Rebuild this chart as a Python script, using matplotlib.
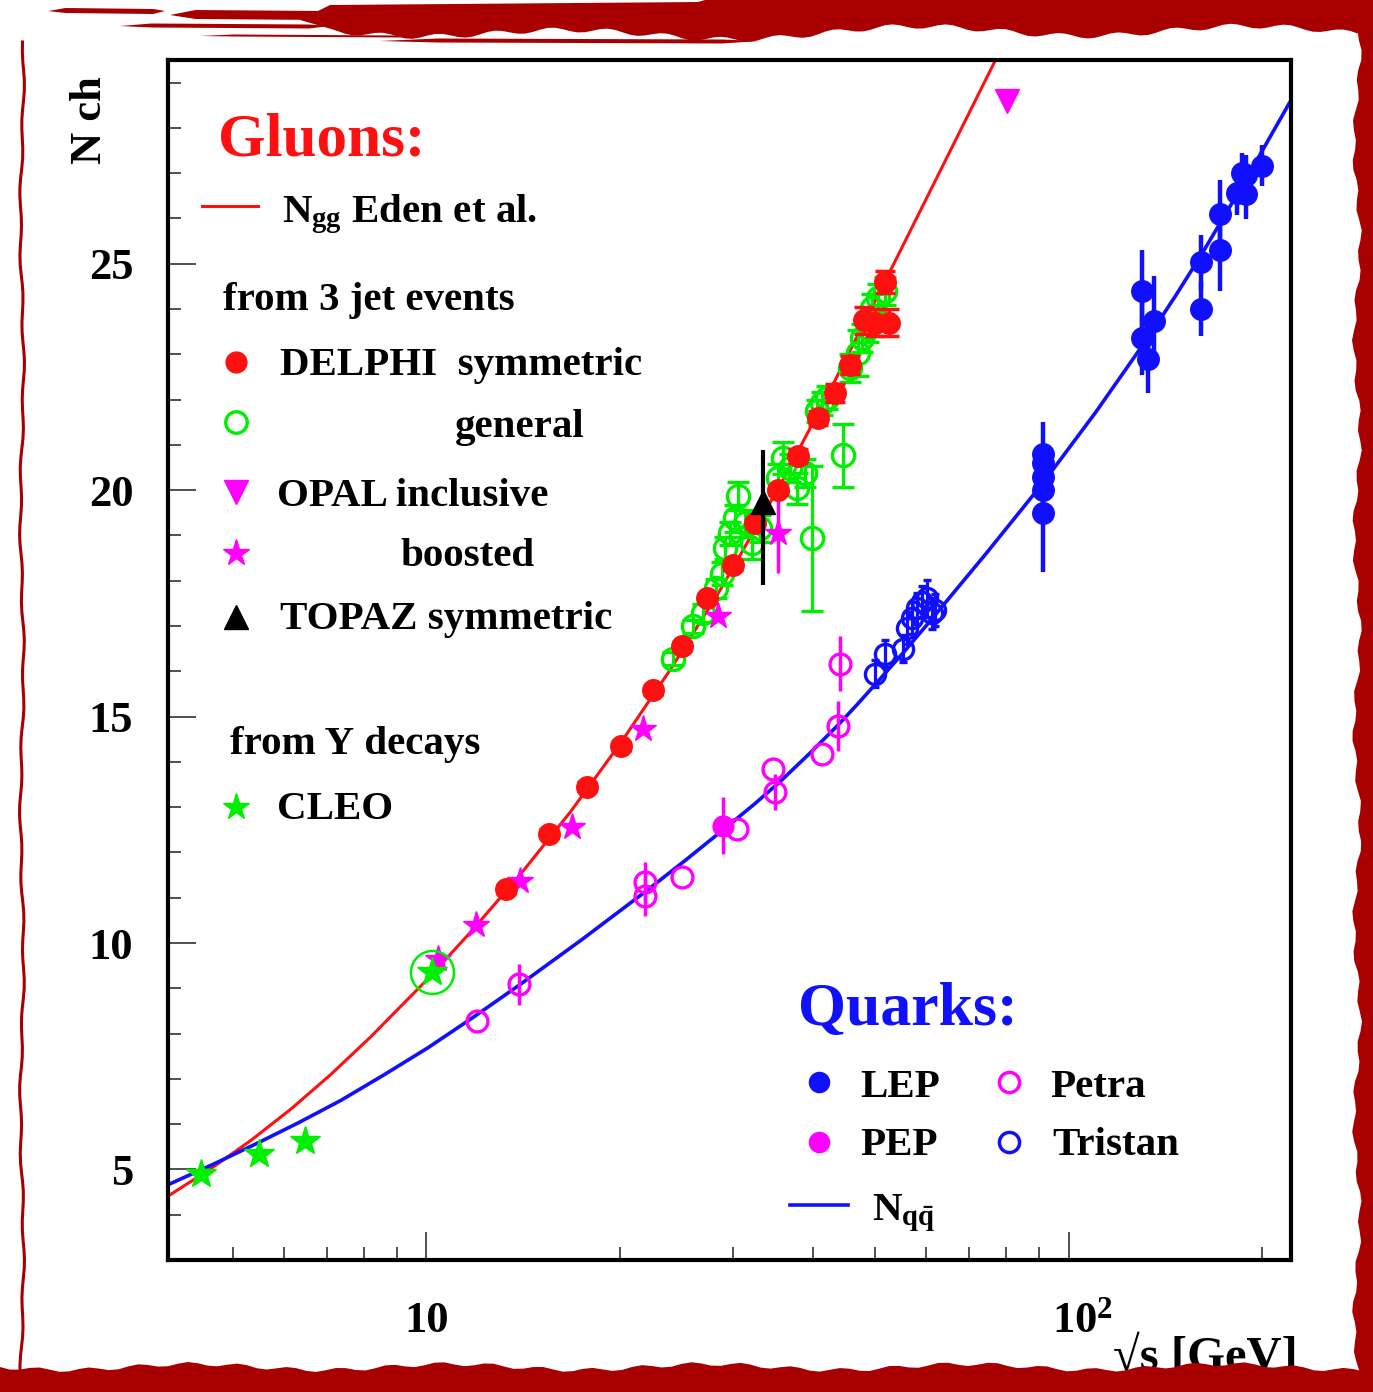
import numpy as np
import matplotlib
matplotlib.use('Agg')
import matplotlib.pyplot as plt
from matplotlib.lines import Line2D
from matplotlib.patches import Polygon
from matplotlib.ticker import FixedLocator, FixedFormatter, NullFormatter
import matplotlib.transforms as mtransforms

plt.rcParams['font.family'] = ['Liberation Serif', 'DejaVu Serif']
plt.rcParams['font.weight'] = 'bold'
plt.rcParams['mathtext.fontset'] = 'custom'
plt.rcParams['mathtext.rm'] = 'Liberation Serif:bold'
plt.rcParams['mathtext.it'] = 'Liberation Serif:bold'
plt.rcParams['mathtext.bf'] = 'Liberation Serif:bold'

# ---------------- data ----------------
# theory curves
ngg_x = [4.00, 4.61, 5.33, 6.15, 7.09, 8.18, 10.04, 11.70, 14.00, 16.75, 20.03, 23.96,
         28.66, 35.52, 42.50, 51.74, 63.01, 77.27]
ngg_y = [4.45, 5.01, 5.64, 6.33, 7.09, 7.92, 9.20, 10.23, 11.51, 12.89, 14.40, 16.03,
         17.79, 20.10, 22.20, 24.60, 27.03, 29.55]

nqq_x = [4.00, 4.65, 5.42, 6.30, 7.35, 8.57, 10.04, 11.83, 13.95, 17.48, 21.91, 25.38,
         29.39, 32.37, 35.52, 39.41, 43.73, 46.81, 49.92, 55.20, 60.78, 74.29, 91.12,
         110.2, 133.7, 146.7, 161.0, 188.5, 220.7]
nqq_y = [4.69, 5.11, 5.56, 6.02, 6.52, 7.08, 7.68, 8.36, 9.07, 10.08, 11.13, 11.84,
         12.57, 13.06, 13.56, 14.17, 14.81, 15.26, 15.70, 16.40, 17.10, 18.59, 20.15,
         21.72, 23.42, 24.29, 25.20, 26.84, 28.55]

# DELPHI symmetric (red filled)
delphi_sym_x = [13.3, 15.5, 17.8, 20.1, 22.5, 25.0, 27.4, 30.0, 32.5, 35.3, 37.9, 40.7,
                43.3, 45.7, 48.0, 50.0, 52.5, 51.7]
delphi_sym_y = [11.19, 12.41, 13.45, 14.34, 15.58, 16.55, 17.61, 18.34, 19.27, 20.00, 20.75,
                21.59, 22.15, 22.77, 23.75, 23.70, 23.70, 24.60]
delphi_sym_e = [0.1, 0.1, 0.1, 0.1, 0.1, 0.1, 0.1, 0.1, 0.1, 0.1, 0.15, 0.15,
                0.2, 0.2, 0.3, 0.3, 0.3, 0.25]

# DELPHI general (green open)
delphi_gen_x = [24.2, 26.0, 27.0, 28.2, 28.9, 29.2, 29.7, 30.2, 30.6, 31.3, 32.1, 33.1,
                35.3, 35.9, 36.8, 37.8, 38.9, 39.9, 40.6, 41.3, 42.0, 44.5, 45.7, 47.0,
                47.7, 48.7, 49.4, 50.5, 51.7]
delphi_gen_y = [16.28, 16.99, 17.28, 17.83, 18.16, 18.72, 19.05, 19.38, 19.87, 19.27, 18.83, 19.16,
                20.27, 20.71, 20.49, 20.04, 20.38, 18.94, 21.75, 21.92, 22.04, 20.77, 22.70, 23.03,
                23.36, 23.58, 24.03, 24.25, 24.40]
delphi_gen_e = [0.15, 0.15, 0.2, 0.2, 0.25, 0.25, 0.25, 0.3, 0.3, 0.3, 0.35, 0.3,
                0.3, 0.35, 0.3, 0.35, 0.3, 1.6, 0.25, 0.25, 0.25, 0.7, 0.3, 0.5,
                0.3, 0.3, 0.3, 0.3, 0.3]

# OPAL
opal_incl_x = [80.1]
opal_incl_y = [28.6]
opal_boost_x = [10.44, 11.96, 14.0, 16.87, 21.76, 28.45, 35.3]
opal_boost_y = [9.65, 10.40, 11.37, 12.57, 14.73, 17.23, 19.05]
opal_boost_e = [0.0, 0.0, 0.0, 0.0, 0.0, 0.0, 0.87]

# TOPAZ
topaz_x = [33.4]
topaz_y = [19.75]
topaz_elo = [1.85]
topaz_ehi = [1.13]

# CLEO (from Upsilon decays)
cleo_x = [4.45, 5.48, 6.48, 10.22]
cleo_y = [4.89, 5.33, 5.62, 9.36]

# Quarks
lep_x = [91.2, 91.2, 91.2, 91.2, 91.2, 130.0, 130.0, 133.0, 136.0, 161.0, 161.0,
         172.0, 172.0, 183.0, 186.0, 189.0, 189.0, 200.0]
lep_y = [20.80, 20.60, 20.30, 20.00, 19.50, 24.40, 23.35, 22.90, 23.73, 25.03, 24.00,
         26.10, 25.30, 26.57, 27.00, 26.53, 26.95, 27.17]
lep_e = [0.7, 0.4, 0.4, 0.5, 1.3, 0.9, 0.8, 0.75, 1.0, 0.6, 0.6,
         0.75, 0.9, 0.5, 0.45, 0.55, 0.45, 0.45]

pep_x = [29.0]
pep_y = [12.59]
pep_e = [0.63]

petra_x = [12.0, 13.95, 21.9, 21.9, 25.0, 30.5, 34.65, 34.9, 41.3, 43.7, 44.05]
petra_y = [8.27, 9.09, 11.35, 11.04, 11.46, 12.52, 13.85, 13.34, 14.18, 14.80, 16.17]
petra_e = [0.0, 0.45, 0.45, 0.45, 0.0, 0.0, 0.0, 0.4, 0.0, 0.55, 0.6]

tristan_x = [49.9, 51.7, 55.2, 56.0, 57.0, 58.0, 59.1, 60.1, 61.2, 61.9]
tristan_y = [15.95, 16.39, 16.50, 16.95, 17.17, 17.39, 17.54, 17.61, 17.28, 17.35]
tristan_e = [0.3, 0.3, 0.3, 0.35, 0.35, 0.35, 0.35, 0.4, 0.35, 0.35]

x_major = [10, 100]
x_major_labels = ['10', r'$10^{2}$']
x_minor = [5, 6, 7, 8, 9, 20, 30, 40, 50, 60, 70, 80, 90, 200]
y_major = [5, 10, 15, 20, 25]
y_minor = list(range(3, 30))

# ---------------- colours ----------------
RED = '#ff1010'
GREEN = '#00ee00'
MAG = '#ff00ff'
BLUE = '#1010ff'
BORDER = '#a80000'

W, H = 1373, 1392
fig = plt.figure(figsize=(W / 100, H / 100), dpi=100)
fig.patch.set_facecolor('white')


def F(px, py):
    return (px / W, 1 - py / H)


ax = fig.add_axes([168 / W, 1 - 1260 / H, (1291 - 168) / W, (1260 - 60) / H])
ax.set_xscale('log')
ax.set_xlim(3.96, 222)
ax.set_ylim(3, 29.5)

# curves
ax.plot(ngg_x, ngg_y, color=RED, lw=2.2, zorder=2, solid_joinstyle='round')
ax.plot(nqq_x, nqq_y, color=BLUE, lw=2.6, zorder=2, solid_joinstyle='round')

# gluon data
ax.errorbar(delphi_gen_x, delphi_gen_y, yerr=delphi_gen_e, fmt='o', ms=16, mfc='none',
            mec=GREEN, mew=2.4, ecolor=GREEN, elinewidth=2.3, capsize=8, capthick=2.3, zorder=3)
ax.errorbar(opal_boost_x, opal_boost_y, yerr=opal_boost_e, fmt='*', ms=20, mfc=MAG, mec=MAG,
            ecolor=MAG, elinewidth=2.5, capsize=0, zorder=4)
ax.errorbar(delphi_sym_x, delphi_sym_y, yerr=delphi_sym_e, fmt='o', ms=15.5, mfc=RED, mec=RED,
            ecolor=RED, elinewidth=2.5, capsize=7, capthick=2.5, zorder=5)
ax.plot(opal_incl_x, opal_incl_y, 'v', ms=17, color=MAG, zorder=5)
ax.errorbar(topaz_x, topaz_y, yerr=[topaz_elo, topaz_ehi], fmt='^', ms=17, color='black',
            elinewidth=3, capsize=0, zorder=6)
ax.plot(cleo_x, cleo_y, '*', ms=22, color=GREEN, zorder=6)
ax.plot(cleo_x[-1:], cleo_y[-1:], 'o', ms=31, mfc='none', mec=GREEN, mew=1.8, zorder=6)

# quark data
ax.errorbar(lep_x, lep_y, yerr=lep_e, fmt='o', ms=15.5, mfc=BLUE, mec=BLUE, ecolor=BLUE,
            elinewidth=3.2, capsize=0, zorder=5)
ax.errorbar(tristan_x, tristan_y, yerr=tristan_e, fmt='o', ms=14.5, mfc='none', mec=BLUE, mew=2.4,
            ecolor=BLUE, elinewidth=2.3, capsize=3, capthick=2.3, zorder=4)
ax.errorbar(petra_x, petra_y, yerr=petra_e, fmt='o', ms=15, mfc='none', mec=MAG, mew=2.4,
            ecolor=MAG, elinewidth=2.5, capsize=0, zorder=4)
ax.errorbar(pep_x, pep_y, yerr=pep_e, fmt='o', ms=15, mfc=MAG, mec=MAG, ecolor=MAG,
            elinewidth=2.5, capsize=0, zorder=5)

# axes styling
for s in ax.spines.values():
    s.set_linewidth(3.0)
    s.set_color('black')
ax.xaxis.set_major_locator(FixedLocator(x_major))
ax.xaxis.set_major_formatter(FixedFormatter(x_major_labels))
ax.xaxis.set_minor_locator(FixedLocator(x_minor))
ax.xaxis.set_minor_formatter(NullFormatter())
ax.yaxis.set_major_locator(FixedLocator(y_major))
ax.yaxis.set_minor_locator(FixedLocator(y_minor))
ax.tick_params(which='both', direction='in', top=False, right=False, color='#303030', width=1.2)
ax.tick_params(which='major', length=20)
ax.tick_params(which='minor', length=9.5)
ax.tick_params(axis='y', which='major', labelsize=32, pad=25)
ax.tick_params(axis='x', which='major', labelsize=32, pad=52)
xt = ax.xaxis.get_major_ticks()
for t in xt:
    t.label1.set_va('baseline')
    t.label1.set_fontweight('bold')
xt[1].label1.set_transform(xt[1].label1.get_transform() +
                           mtransforms.ScaledTranslation(0.14, 0, fig.dpi_scale_trans))
for t in ax.yaxis.get_major_ticks():
    t.label1.set_fontweight('bold')

# axis titles
fig.text(*F(90, 120), 'N ch', rotation=90, fontsize=32, fontweight='bold',
         ha='center', va='center')
fig.text(*F(1298, 1370), '\u221As [GeV]', fontsize=35, fontweight='bold', ha='right', va='baseline')

# ---------------- legend (manual layout) ----------------
LS = 29.5


def txt(px, py, s, size=LS, color='black'):
    fig.text(*F(px, py), s, fontsize=size, fontweight='bold', color=color, ha='left', va='baseline')


def key(px, py, **kw):
    x, y = F(px, py)
    fig.add_artist(Line2D([x], [y], transform=fig.transFigure, linestyle='none', **kw))


def keyline(px0, px1, py, color, lw):
    x0, y0 = F(px0, py)
    x1, _ = F(px1, py)
    fig.add_artist(Line2D([x0, x1], [y0, y0], transform=fig.transFigure, color=color, lw=lw))


txt(218, 155, 'Gluons:', size=44, color=RED)
keyline(202, 258, 206, RED, 2.2)
txt(282, 222, r'$N_{gg}$ Eden et al.')
txt(223, 310, 'from 3 jet events')
key(236, 362, marker='o', ms=15, mfc=RED, mec=RED)
txt(280, 375, 'DELPHI  symmetric')
key(236, 422, marker='o', ms=15.5, mfc='none', mec=GREEN, mew=2.4)
txt(455, 437, 'general')
key(236, 492, marker='v', ms=17, color=MAG)
txt(277, 506, 'OPAL inclusive')
key(236, 553, marker='*', ms=20, color=MAG)
txt(400, 566, 'boosted')
key(236, 617, marker='^', ms=17, color='black')
txt(280, 629, 'TOPAZ symmetric')
txt(230, 754, 'from \u03a5 decays')
key(236, 807, marker='*', ms=20, color=GREEN)
txt(277, 819, 'CLEO')

txt(798, 1025, 'Quarks:', size=44.5, color=BLUE)
key(819, 1082, marker='o', ms=14.5, mfc=BLUE, mec=BLUE)
txt(860, 1097, 'LEP')
key(1009, 1082, marker='o', ms=14.5, mfc='none', mec=MAG, mew=2.5)
txt(1050, 1097, 'Petra')
key(819, 1142, marker='o', ms=14.5, mfc=MAG, mec=MAG)
txt(860, 1155, 'PEP')
key(1009, 1142, marker='o', ms=14.5, mfc='none', mec=BLUE, mew=2.5)
txt(1052, 1155, 'Tristan')
keyline(790, 848, 1205, BLUE, 2.6)
txt(872, 1220, r'$N_{q\bar{q}}$')

# ---------------- grungy red frame ----------------
def poly(pts, color=BORDER):
    fig.add_artist(Polygon([F(*p) for p in pts], closed=True, transform=fig.transFigure,
                           facecolor=color, edgecolor='none', zorder=100))


def streak(x0, x1, yc, t):
    L = x1 - x0
    poly([(x0, yc), (x0 + 0.15 * L, yc - t / 2), (x1 - 0.1 * L, yc - t / 2 + 1), (x1, yc),
          (x1 - 0.1 * L, yc + t / 2), (x0 + 0.15 * L, yc + t / 2 - 1)])


xs = np.linspace(330, 1373, 140)
top_lo = 31 + 5 * np.sin(xs / 53.0) + 2.5 * np.sin(xs / 9.0) + 5 * np.exp(-((xs - 650) / 150) ** 2)
top_hi = np.where(xs < 700, 5 - 3 * (xs - 330) / 370, 0)
poly([(300, 20)] + list(zip(xs, top_hi)) + list(zip(xs[::-1], top_lo[::-1])))
streak(48, 165, 11, 6)
streak(170, 340, 15, 10)
streak(120, 330, 26, 5)
streak(380, 760, 41, 5)
streak(200, 420, 36, 3)

ys = np.linspace(0, 1392, 140)
right_lo = 1357 + 3 * np.sin(ys / 31.0) + 2 * np.sin(ys / 7.0)
poly(list(zip(right_lo, ys)) + [(1373, 1392), (1373, 0)])

xb = np.linspace(0, 1373, 140)
bot_hi = 1367 + 3 * np.sin(xb / 41.0) + 2 * np.sin(xb / 8.0)
poly(list(zip(xb, bot_hi)) + [(1373, 1392), (0, 1392)])

yl = np.linspace(42, 1385, 140)
xl = 22 + 1.5 * np.sin(yl / 47.0) + 1.0 * np.sin(yl / 11.0)
pts = [F(a, b) for a, b in zip(xl, yl)]
fig.add_artist(Line2D([p[0] for p in pts], [p[1] for p in pts], transform=fig.transFigure,
                      color=BORDER, lw=2.2, zorder=100))

fig.savefig('out.png', dpi=100, facecolor='white')
